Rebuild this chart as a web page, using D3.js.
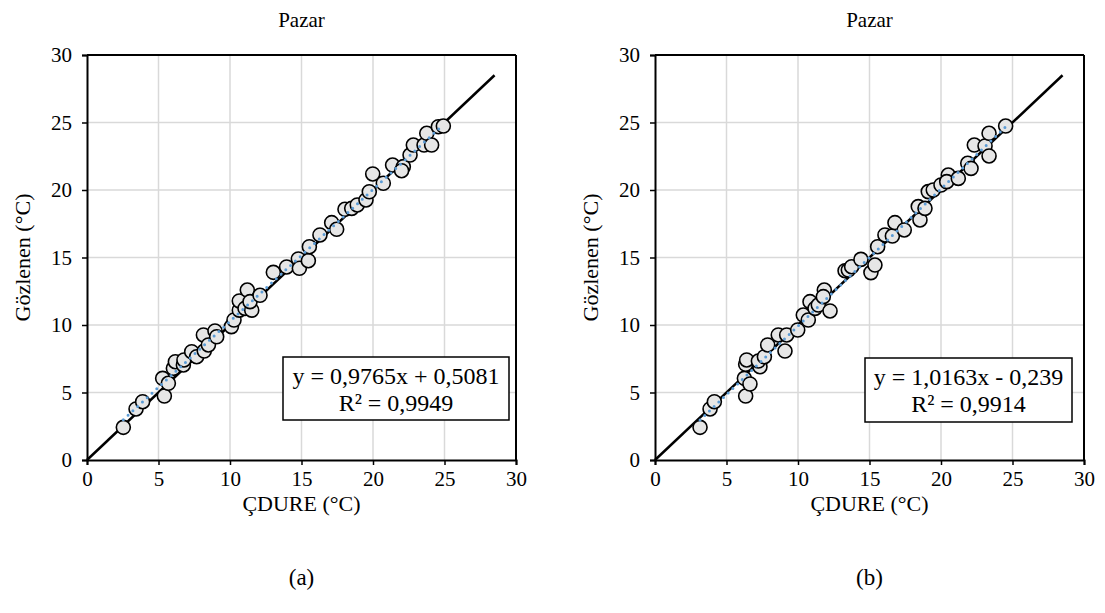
<!DOCTYPE html>
<html><head><meta charset="utf-8">
<script src="https://cdn.jsdelivr.net/npm/d3@7"></script>
<style>body{margin:0;background:#fff;} svg{display:block;font-family:"Liberation Serif","Times New Roman",serif;} text{fill:#000;}</style>
</head><body>
<svg id="c" width="1105" height="613"></svg>
<script>
const ticks = [0, 5, 10, 15, 20, 25, 30];
const titles = ["Pazar", "Pazar"];
const panelLabels = ["(a)", "(b)"];
const xTitle = "ÇDURE (°C)";
const yTitle = "Gözlenen (°C)";
const identityEnd = 28.5;

const xA = [2.54,3.43,3.89,5.41,5.29,5.69,6.04,6.18,6.74,6.78,7.32,7.67,8.2,8.14,8.49,8.95,9.07,10.1,10.28,10.65,10.65,11.05,11.21,11.52,11.4,12.1,13.03,13.96,14.78,14.85,15.48,15.55,16.29,17.11,17.46,18.04,18.51,18.9,19.51,19.74,19.98,20.72,21.37,22.12,22.0,22.59,22.82,23.57,23.76,24.1,24.57,24.92];
const yA = [2.42,3.78,4.32,4.74,6.05,5.68,6.79,7.28,7.04,7.41,8.02,7.65,8.07,9.26,8.52,9.56,9.13,9.88,10.37,11.1,11.78,11.23,12.59,11.1,11.73,12.2,13.9,14.3,14.89,14.2,14.76,15.8,16.67,17.58,17.09,18.57,18.64,18.89,19.26,19.87,21.19,20.5,21.85,21.73,21.43,22.59,23.33,23.33,24.2,23.33,24.69,24.74];
const xB = [3.15,3.85,4.15,6.34,6.25,6.64,6.34,6.41,7.34,7.23,7.65,7.88,8.62,9.09,9.21,9.98,10.37,10.72,10.84,11.19,11.42,11.84,11.77,12.24,13.29,13.52,13.75,14.4,15.1,15.38,15.57,16.08,16.6,16.78,17.43,18.41,18.53,18.88,19.11,19.46,20.0,20.51,20.4,21.21,21.87,22.1,22.33,23.08,23.36,23.36,24.52];
const yB = [2.42,3.78,4.32,4.74,6.05,5.63,7.09,7.41,6.91,7.33,7.65,8.52,9.26,8.07,9.26,9.63,10.74,10.37,11.73,11.23,11.48,12.59,12.1,11.04,14.02,14.07,14.32,14.86,13.88,14.44,15.8,16.67,16.59,17.58,17.04,18.77,17.78,18.64,19.88,20.0,20.37,21.11,20.62,20.86,21.98,21.6,23.33,23.26,24.2,22.52,24.74];
const slopes = [0.9765, 1.0163];
const intercepts = [0.5081, -0.239];
const eqTexts = ["y = 0,9765x + 0,5081", "y = 1,0163x - 0,239"];
const r2Texts = ["R² = 0,9949", "R² = 0,9914"];

const svg = d3.select("#c");
const panels = [
  {x0: 87, xs: xA, ys: yA, box: [283, 357, 226, 63]},
  {x0: 655, xs: xB, ys: yB, box: [865, 358, 207, 64]}
];
const PW = 429, PTOP = 55, PBOT = 460;
const FONT = "Liberation Serif, Times New Roman, serif";

panels.forEach((p, i) => {
  const x = d3.scaleLinear().domain([0, 30]).range([p.x0, p.x0 + PW]);
  const y = d3.scaleLinear().domain([0, 30]).range([PBOT, PTOP]);
  const g = svg.append("g");
  const cx = p.x0 + PW / 2;
  g.selectAll(".gx").data(ticks.slice(1, -1)).enter().append("line")
    .attr("x1", d => x(d)).attr("x2", d => x(d)).attr("y1", PTOP).attr("y2", PBOT)
    .attr("stroke", "#d9d9d9").attr("stroke-width", 1.5);
  g.selectAll(".gy").data(ticks.slice(1, -1)).enter().append("line")
    .attr("y1", d => y(d)).attr("y2", d => y(d)).attr("x1", p.x0).attr("x2", p.x0 + PW)
    .attr("stroke", "#d9d9d9").attr("stroke-width", 1.5);
  const xa = g.append("g").attr("transform", `translate(0,${PBOT})`)
    .call(d3.axisBottom(x).tickValues(ticks).tickSize(5).tickPadding(6).tickFormat(d3.format("d")));
  const ya = g.append("g").attr("transform", `translate(${p.x0},0)`)
    .call(d3.axisLeft(y).tickValues(ticks).tickSize(5).tickPadding(10).tickFormat(d3.format("d")));
  [xa, ya].forEach(a => {
    a.attr("font-size", 21).attr("font-family", FONT);
    a.select(".domain").attr("stroke", "#000").attr("stroke-width", 2);
    a.selectAll(".tick line").attr("stroke", "#000").attr("stroke-width", 1.5);
    a.selectAll(".tick text").attr("font-size", 21).attr("fill", "#000");
  });
  g.append("line").attr("x1", p.x0).attr("x2", p.x0 + PW).attr("y1", PTOP).attr("y2", PTOP).attr("stroke", "#000").attr("stroke-width", 2);
  g.append("line").attr("x1", p.x0 + PW).attr("x2", p.x0 + PW).attr("y1", PTOP).attr("y2", PBOT).attr("stroke", "#000").attr("stroke-width", 2);
  g.append("line").attr("x1", x(0)).attr("y1", y(0)).attr("x2", x(identityEnd)).attr("y2", y(identityEnd))
    .attr("stroke", "#000").attr("stroke-width", 2.5);
  const pts = p.xs.map((v, k) => [v, p.ys[k]]);
  g.selectAll("circle").data(pts).enter().append("circle")
    .attr("cx", d => x(d[0])).attr("cy", d => y(d[1])).attr("r", 7)
    .attr("fill", "#e6e6e6").attr("stroke", "#000").attr("stroke-width", 1.6);
  const xmin = d3.min(p.xs), xmax = d3.max(p.xs);
  g.append("line")
    .attr("x1", x(xmin)).attr("y1", y(slopes[i] * xmin + intercepts[i]))
    .attr("x2", x(xmax)).attr("y2", y(slopes[i] * xmax + intercepts[i]))
    .attr("stroke", "#5b9bd5").attr("stroke-width", 3).attr("stroke-linecap", "round")
    .attr("stroke-dasharray", "0 6.5");
  const b = p.box;
  g.append("rect").attr("x", b[0]).attr("y", b[1]).attr("width", b[2]).attr("height", b[3])
    .attr("fill", "#fff").attr("stroke", "#000").attr("stroke-width", 1.5);
  g.append("text").attr("x", b[0] + b[2] / 2).attr("y", b[1] + 27).attr("text-anchor", "middle")
    .attr("font-size", 24).text(eqTexts[i]);
  g.append("text").attr("x", b[0] + b[2] / 2).attr("y", b[1] + 54).attr("text-anchor", "middle")
    .attr("font-size", 24).text(r2Texts[i]);
  g.append("text").attr("x", cx).attr("y", 27).attr("text-anchor", "middle").attr("font-size", 21).text(titles[i]);
  g.append("text").attr("x", cx).attr("y", 511).attr("text-anchor", "middle").attr("font-size", 22).text(xTitle);
  g.append("text").attr("transform", `translate(${p.x0 - 57},${(PTOP + PBOT) / 2}) rotate(-90)`)
    .attr("text-anchor", "middle").attr("font-size", 22).text(yTitle);
  g.append("text").attr("x", cx).attr("y", 585).attr("text-anchor", "middle").attr("font-size", 23).text(panelLabels[i]);
});
</script>
</body></html>
